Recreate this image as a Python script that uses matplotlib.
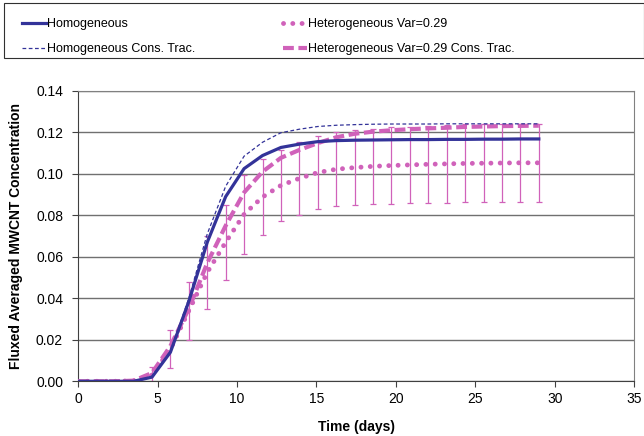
import matplotlib.pyplot as plt
from matplotlib.patches import Rectangle

plt.rcParams['font.family'] = ['Liberation Sans', 'DejaVu Sans']

# sampling times (days)
time = [0.0, 1.16, 2.32, 3.48, 4.64, 5.80, 6.96, 8.12, 9.28, 10.44, 11.60, 12.76, 13.92,
        15.08, 16.24, 17.40, 18.56, 19.72, 20.88, 22.04, 23.20, 24.36, 25.52, 26.68,
        27.84, 29.00]

homogeneous = [0, 0, 0, 0, 0.002, 0.014, 0.0385, 0.067, 0.089, 0.1025, 0.1088, 0.1127,
               0.1143, 0.1155, 0.116, 0.1162, 0.1163, 0.1164, 0.1165, 0.1165, 0.1166,
               0.1166, 0.1167, 0.1167, 0.1168, 0.1168]

homogeneous_ct = [0, 0, 0, 0, 0.002, 0.0145, 0.040, 0.071, 0.094, 0.1085, 0.1152, 0.1198,
                  0.1215, 0.1228, 0.1234, 0.1237, 0.1239, 0.124, 0.124, 0.124, 0.1241,
                  0.1241, 0.1241, 0.1241, 0.1241, 0.1241]

hetero = [0, 0, 0, 0.0002, 0.003, 0.0155, 0.034, 0.0525, 0.067, 0.0805, 0.0888, 0.0944,
          0.0978, 0.1006, 0.1022, 0.103, 0.1036, 0.104, 0.1043, 0.1046, 0.1048, 0.105,
          0.1051, 0.1052, 0.1053, 0.1053]

hetero_err = [0, 0, 0, 0, 0.004, 0.009, 0.014, 0.0177, 0.018, 0.019, 0.0184, 0.0172,
              0.0175, 0.0174, 0.0178, 0.018, 0.0182, 0.0184, 0.0185, 0.0186, 0.0187,
              0.0188, 0.0188, 0.0188, 0.0188, 0.0188]

hetero_ct = [0, 0, 0, 0.0003, 0.004, 0.017, 0.035, 0.057, 0.075, 0.091, 0.101, 0.1077,
             0.1115, 0.1148, 0.1176, 0.1193, 0.1203, 0.121, 0.1215, 0.1219, 0.1222, 0.1226,
             0.1228, 0.123, 0.1231, 0.1232]

blue = '#333399'
pink = '#D062BA'

fig = plt.figure(figsize=(6.44, 4.36), dpi=100)
ax = fig.add_axes([0.1216, 0.1255, 0.863, 0.6662])

ax.errorbar(time, hetero, yerr=hetero_err, fmt='none', ecolor=pink, elinewidth=0.9,
            capsize=2.5, capthick=0.9, zorder=2)
ax.plot(time, homogeneous, color=blue, lw=2.3, label='Homogeneous', zorder=4)
ax.plot(time, homogeneous_ct, color=blue, lw=0.9, ls=(0, (3, 2)),
        label='Homogeneous Cons. Trac.', zorder=5)
ax.plot(time, hetero, color=pink, lw=3.5, ls=(0, (0.01, 1.9)), dash_capstyle='round',
        label='Heterogeneous Var=0.29', zorder=3)
ax.plot(time, hetero_ct, color=pink, lw=3, ls=(0, (2.6, 1.1)),
        label='Heterogeneous Var=0.29 Cons. Trac.', zorder=3)

ax.set_xlim(0, 35)
ax.set_ylim(0, 0.14)
ax.set_xticks(range(0, 36, 5))
ax.set_yticks([0, 0.02, 0.04, 0.06, 0.08, 0.10, 0.12, 0.14])
ax.set_yticklabels(['%.2f' % v for v in ax.get_yticks()])
ax.tick_params(labelsize=10, length=4, width=0.8, color='#404040', direction='out')
ax.tick_params(axis='y', pad=7)
ax.yaxis.grid(True, color='#707070', lw=1)
ax.set_axisbelow(True)
for s in ['top', 'right']:
    ax.spines[s].set_color('#808080')
for s in ['left', 'bottom']:
    ax.spines[s].set_color('#404040')

ax.set_xlabel('Time (days)', fontsize=10, fontweight='bold', labelpad=10)
ax.set_ylabel('Fluxed Averaged MWCNT Concentration', fontsize=10, fontweight='bold',
              labelpad=9)

# legend across the top, with its own frame
handles, labels = ax.get_legend_handles_labels()
fig.legend(handles, labels, ncol=2, loc='upper left', bbox_to_anchor=(22 / 644, 1 - 18 / 436),
           frameon=False, fontsize=9, handlelength=1.9, handletextpad=0.1,
           columnspacing=7.0, labelspacing=1.05, borderaxespad=0, borderpad=0)
fig.patches.append(Rectangle((4 / 644, 1 - 58 / 436), 640 / 644, 55 / 436,
                             transform=fig.transFigure, fill=False, ec='#303030', lw=0.8))

fig.savefig('out.png', dpi=100)
